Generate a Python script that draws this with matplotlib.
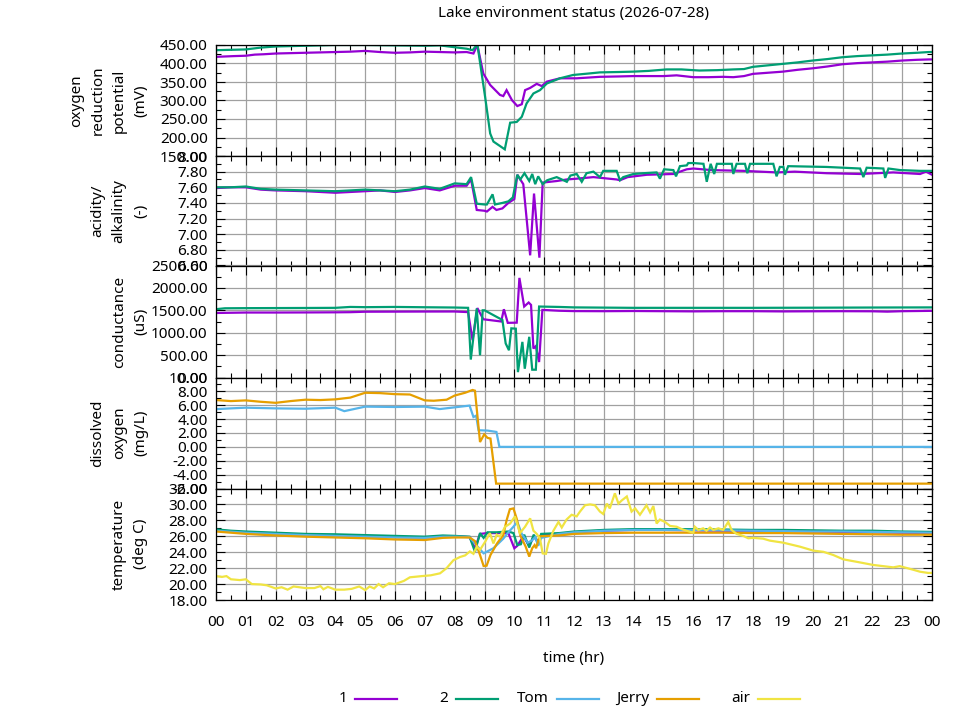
import matplotlib
matplotlib.use("Agg")
import matplotlib.pyplot as plt
from matplotlib.ticker import MultipleLocator, FormatStrFormatter, FuncFormatter
from matplotlib.lines import Line2D

# ---------------- data ----------------
title = "Lake environment status (2026-07-28)"
series_names = ["1", "2", "Tom", "Jerry", "air"]
series_colors = ["#9400D3", "#009E73", "#56B4E9", "#E69F00", "#F0E442"]

# oxygen reduction potential (mV)
orp1_t = [0, 0.3, 0.6, 1.0, 1.3, 1.6, 2.0, 2.5, 3.0, 3.5, 4.0, 4.5, 5.0, 5.5, 6.0, 6.5, 7.0, 7.5, 8.0, 8.4,
          8.63, 8.76, 8.96, 9.19, 9.52, 9.63, 9.74, 9.92, 10.1, 10.25, 10.36, 10.53, 10.75, 10.92, 11.09, 11.53,
          12.09, 12.87, 13.5, 14.0, 14.5, 15.0, 15.44, 16.0, 16.5, 17.0, 17.34, 17.7, 18.0, 18.5, 19.0, 19.5,
          20.0, 20.5, 21.0, 21.5, 22.0, 22.5, 23.0, 23.5, 23.9, 24.0]
orp1_v = [418, 419, 420, 421, 424, 425, 427, 428, 429, 430, 431, 432, 434, 431, 429, 430, 432, 431, 430, 431,
          427, 450, 373, 342, 315, 312, 328, 301, 285, 290, 328, 334, 345, 339, 351, 360,
          360, 364, 365, 366, 366, 366, 368, 363, 363, 364, 363, 366, 372, 375, 378, 383,
          387, 392, 398, 401, 403, 405, 408, 410, 411, 411]
orp2_t = [0, 0.5, 1.0, 1.5, 2.0, 3.0, 4.0, 5.0, 6.0, 7.0, 7.5, 8.0, 8.4, 8.6, 8.76, 9.02, 9.19, 9.3, 9.5,
          9.68, 9.86, 10.08, 10.25, 10.41, 10.64, 10.86, 11.09, 11.53, 11.97, 12.5, 12.87, 13.5, 13.98, 14.5,
          15.1, 15.6, 16.2, 16.8, 17.34, 17.7, 18.0, 18.5, 19.0, 19.5, 20.0, 20.5, 21.0, 21.5, 22.0, 22.5,
          23.0, 23.5, 23.9, 24.0]
orp2_v = [436, 437, 438, 443, 446, 448, 450, 450, 449, 448, 449, 444, 440, 436, 452, 310, 211, 189, 178,
          168, 240, 242, 256, 292, 319, 328, 346, 360, 369, 373, 376, 377, 378, 380,
          384, 384, 381, 382, 384, 385, 391, 395, 399, 403, 408, 412, 417, 420, 422, 424,
          427, 429, 431, 431]

# acidity / alkalinity
ph1_t = [0, 0.5, 1.0, 1.5, 2.0, 3.0, 4.0, 5.0, 5.5, 6.0, 6.5, 7.0, 7.5, 8.0, 8.4, 8.55, 8.74, 9.0, 9.08,
         9.27, 9.4, 9.6, 9.8, 10.0, 10.1, 10.3, 10.53, 10.66, 10.84, 10.95, 11.42, 11.76, 12.09, 12.65, 13.43,
         13.54, 13.8, 14.44, 15.33, 15.78, 16.0, 16.6, 17.68, 18.8, 19.4, 20.47, 21.6, 22.7, 23.6, 23.8, 24.0]
ph1_v = [7.59, 7.60, 7.60, 7.57, 7.56, 7.55, 7.53, 7.55, 7.56, 7.54, 7.56, 7.59, 7.56, 7.62, 7.62, 7.70,
         7.31, 7.30, 7.29, 7.35, 7.31, 7.33, 7.40, 7.45, 7.76, 7.64, 6.73, 7.52, 6.70, 7.66, 7.68, 7.70,
         7.71, 7.73, 7.70, 7.69, 7.73, 7.76, 7.77, 7.83, 7.84, 7.82, 7.81, 7.79, 7.80, 7.78, 7.77, 7.79,
         7.77, 7.80, 7.76]
ph2_t = [0, 0.5, 1.0, 1.5, 2.0, 3.0, 4.0, 5.0, 6.0, 6.5, 7.0, 7.5, 8.0, 8.4, 8.55, 8.74, 9.0, 9.08, 9.27,
         9.35, 9.6, 9.8, 9.95, 10.1, 10.2, 10.34, 10.5, 10.6, 10.7, 10.8, 10.95, 11.1, 11.42, 11.76, 11.88,
         12.09, 12.26, 12.42, 12.65, 12.87, 12.98, 13.43, 13.54, 13.65, 13.99, 14.33, 14.77, 14.88, 15.02,
         15.33, 15.42, 15.55, 15.78, 15.83, 16.0, 16.34, 16.45, 16.58, 16.7, 16.79, 17.29, 17.34, 17.45,
         17.73, 17.81, 17.9, 18.68, 18.79, 18.9, 19.02, 19.07, 19.18, 20.47, 21.59, 21.7, 21.81, 22.37,
         22.43, 22.54, 22.93, 23.6, 24.0]
ph2_v = [7.60, 7.60, 7.61, 7.58, 7.57, 7.56, 7.55, 7.57, 7.55, 7.57, 7.61, 7.58, 7.65, 7.64, 7.73, 7.39,
         7.38, 7.38, 7.51, 7.38, 7.40, 7.42, 7.47, 7.76, 7.70, 7.78, 7.68, 7.77, 7.64, 7.74, 7.64, 7.69,
         7.73, 7.67, 7.75, 7.77, 7.67, 7.78, 7.80, 7.73, 7.81, 7.81, 7.69, 7.73, 7.77, 7.78, 7.79, 7.71,
         7.83, 7.82, 7.74, 7.87, 7.88, 7.91, 7.91, 7.90, 7.67, 7.90, 7.77, 7.90, 7.90, 7.77, 7.90,
         7.90, 7.78, 7.90, 7.90, 7.74, 7.86, 7.86, 7.76, 7.87, 7.86, 7.84, 7.73, 7.85, 7.84,
         7.72, 7.84, 7.82, 7.81, 7.81]

# conductance (uS)
ec1_t = [0, 1, 2, 3, 4, 4.5, 5, 6, 7, 8, 8.45, 8.6, 8.76, 8.96, 9.56, 9.65, 9.78, 10.08, 10.17, 10.33,
         10.48, 10.56, 10.64, 10.72, 10.83, 10.94, 11.5, 12, 13, 14, 15, 16, 17, 18, 19, 20, 21, 22, 22.5,
         23, 24]
ec1_v = [1440, 1450, 1450, 1452, 1455, 1458, 1468, 1470, 1472, 1473, 1460, 833, 1550, 1300, 1250, 1524,
         1220, 1224, 2223, 1584, 1674, 1620, 646, 700, 345, 1509, 1490, 1482, 1480, 1484, 1480, 1476,
         1480, 1480, 1475, 1478, 1480, 1478, 1470, 1480, 1488]
ec2_t = [0, 0.3, 1, 2, 3, 4, 4.5, 5, 6, 7, 8, 8.45, 8.54, 8.74, 8.85, 8.94, 9.0, 9.6, 9.71, 9.82, 9.9,
         10.05, 10.12, 10.27, 10.35, 10.5, 10.6, 10.72, 10.83, 11.5, 12, 14, 16, 18, 20, 22, 24]
ec2_v = [1525, 1545, 1548, 1550, 1552, 1555, 1575, 1570, 1575, 1568, 1562, 1555, 400, 1540, 496, 1500,
         1500, 1284, 760, 608, 1097, 1090, 120, 795, 196, 908, 174, 174, 1584, 1575, 1565, 1555, 1555,
         1555, 1558, 1562, 1565]

# dissolved oxygen (mg/L)
do_tom_t = [0, 0.5, 1, 2, 3, 4, 4.3, 5, 6, 7, 7.5, 8, 8.5, 8.63, 8.72, 8.8, 9.1, 9.4, 9.5, 12, 24]
do_tom_v = [5.44, 5.55, 5.65, 5.55, 5.5, 5.65, 5.15, 5.8, 5.75, 5.8, 5.45, 5.7, 5.95, 4.3, 4.5, 2.4,
            2.35, 2.15, 0.0, 0.0, 0.0]
do_jerry_t = [0, 0.5, 1, 1.5, 2, 2.5, 3, 3.5, 4, 4.5, 5, 5.5, 6, 6.5, 7, 7.3, 7.73, 8, 8.35, 8.6, 8.68,
              8.85, 8.99, 9.1, 9.2, 9.39, 12, 24]
do_jerry_v = [6.75, 6.6, 6.7, 6.5, 6.35, 6.6, 6.8, 6.75, 6.85, 7.1, 7.8, 7.75, 7.6, 7.55, 6.7, 6.65, 6.8,
              7.4, 7.8, 8.2, 8.1, 0.7, 1.8, 1.3, 1.2, -5.3, -5.3, -5.3]

# temperature (deg C)
temp1_t = [0, 1, 2, 3, 4, 5, 6, 7, 7.6, 8, 8.5, 8.68, 8.85, 9.1, 9.5, 9.8, 10.0, 10.1, 10.3, 10.5, 10.65,
           10.8, 10.9, 11.5, 12, 13, 14, 15, 16, 17, 18, 19, 20, 21, 22, 23, 24]
temp1_v = [26.75, 26.5, 26.35, 26.2, 26.1, 26.0, 25.9, 25.85, 26.0, 26.0, 25.9, 24.5, 26.3, 26.4, 26.4,
           26.4, 24.5, 24.8, 26.0, 24.8, 26.0, 25.3, 26.2, 26.3, 26.5, 26.7, 26.8, 26.8, 26.75, 26.7,
           26.7, 26.65, 26.6, 26.55, 26.5, 26.45, 26.4]
temp2_t = [0, 0.5, 1, 2, 3, 4, 5, 6, 7, 7.6, 8, 8.5, 8.68, 8.85, 8.97, 9.1, 9.4, 9.8, 9.97, 10.1, 10.22,
           10.33, 10.5, 10.65, 10.8, 10.9, 11.5, 12, 13, 14, 15, 16, 17, 18, 19, 20, 21, 22, 23, 24]
temp2_v = [26.87, 26.7, 26.6, 26.45, 26.3, 26.25, 26.15, 26.05, 25.95, 26.1, 26.05, 25.95, 24.06, 26.4,
           25.8, 26.5, 26.5, 26.6, 26.4, 24.9, 25.0, 26.2, 24.6, 26.2, 25.1, 26.3, 26.4, 26.6, 26.8,
           26.9, 26.9, 26.9, 26.85, 26.8, 26.8, 26.75, 26.7, 26.7, 26.6, 26.55]
temp_tom_t = [0, 1, 2, 3, 4, 5, 6, 7, 7.6, 8, 8.5, 8.7, 8.97, 9.3, 9.63, 9.8, 9.97, 10.1, 10.25, 10.45,
              10.6, 10.7, 10.8, 10.9, 11.5, 12, 13, 14, 15, 16, 17, 18, 19, 20, 21, 22, 23, 24]
temp_tom_v = [26.7, 26.45, 26.3, 26.15, 26.05, 25.95, 25.85, 25.8, 25.95, 25.95, 25.9, 25.0, 23.86, 24.5,
              25.7, 26.5, 27.2, 27.8, 26.3, 25.2, 25.5, 25.9, 24.8, 25.8, 26.3, 26.5, 26.7, 26.8, 26.8,
              26.8, 26.75, 26.7, 26.65, 26.6, 26.6, 26.55, 26.5, 26.45]
temp_jerry_t = [0, 1, 2, 3, 4, 5, 6, 7, 7.6, 8, 8.5, 8.68, 8.85, 8.97, 9.07, 9.2, 9.42, 9.63, 9.74, 9.85,
                9.97, 10.08, 10.2, 10.38, 10.5, 10.6, 10.68, 10.73, 10.84, 11.5, 12, 13, 14, 15, 16, 17,
                18, 19, 20, 21, 22, 23, 24]
temp_jerry_v = [26.6, 26.3, 26.1, 25.95, 25.85, 25.75, 25.6, 25.53, 25.8, 25.85, 25.85, 25.4, 23.65, 22.27,
                22.3, 23.65, 25.1, 26.15, 28.0, 29.4, 29.5, 28.2, 26.1, 24.7, 23.45, 24.5, 24.9, 24.5,
                26.0, 26.1, 26.3, 26.4, 26.45, 26.45, 26.45, 26.45, 26.4, 26.4, 26.35, 26.3, 26.25, 26.2,
                26.2]
temp_air_t = [0, 0.2, 0.35, 0.5, 0.8, 1.0, 1.2, 1.5, 1.7, 2.0, 2.2, 2.4, 2.6, 2.8, 3.0, 3.3, 3.5, 3.6,
              3.75, 4.0, 4.3, 4.55, 4.8, 5.0, 5.15, 5.3, 5.45, 5.6, 5.8, 6.0, 6.3, 6.5, 6.9, 7.2, 7.51,
              7.73, 7.96, 8.18, 8.35, 8.51, 8.63, 8.74, 8.85, 9.02, 9.18, 9.3, 9.41, 9.52, 9.69, 9.86, 10.02,
              10.19, 10.36, 10.53, 10.64, 10.75, 10.86, 10.95, 11.06, 11.14, 11.31, 11.48, 11.59, 11.75,
              11.92, 12.09, 12.2, 12.37, 12.54, 12.7, 12.87, 12.98, 13.1, 13.2, 13.37, 13.49, 13.6, 13.77,
              13.93, 14.05, 14.21, 14.32, 14.43, 14.55, 14.66, 14.77, 14.88, 15.05, 15.22, 15.44, 15.61,
              15.77, 16.0, 16.05, 16.17, 16.33, 16.44, 16.56, 16.67, 16.84, 17.0, 17.17, 17.28, 17.45,
              17.67, 17.84, 18.01, 18.34, 18.57, 19.01, 19.57, 20.02, 20.36, 20.69, 21.03, 21.47, 22.03,
              22.7, 22.92, 23.37, 23.6, 23.87, 24.0]
temp_air_v = [21.0, 20.9, 21.0, 20.6, 20.5, 20.6, 20.0, 19.95, 19.85, 19.45, 19.6, 19.3, 19.7, 19.6, 19.5,
              19.5, 19.75, 19.35, 19.65, 19.3, 19.3, 19.4, 19.7, 19.25, 19.7, 19.45, 20.0, 19.6, 20.1,
              20.0, 20.4, 20.85, 21.0, 21.1, 21.35, 22.0, 23.0, 23.4, 23.6, 24.1, 23.8, 24.7, 24.3, 25.3,
              26.4, 25.1, 26.2, 25.95, 27.2, 27.6, 28.5, 26.4, 27.2, 28.25, 26.7, 26.3, 25.7, 23.85, 23.8,
              25.1, 26.7, 27.8, 27.1, 28.1, 28.7, 28.5, 29.1, 29.9, 30.0, 29.9, 29.1, 28.8, 30.1, 29.5,
              31.4, 30.1, 30.5, 31.0, 29.1, 29.5, 28.7, 29.3, 29.9, 29.0, 29.8, 27.6, 28.1, 27.8, 27.3,
              27.2, 26.9, 26.7, 26.45, 27.2, 26.8, 27.0, 26.7, 27.1, 26.8, 27.0, 26.8, 27.8, 26.8, 26.3,
              26.05, 25.75, 25.8, 25.7, 25.45, 25.2, 24.7, 24.2, 24.05, 23.65, 23.1, 22.8, 22.4, 22.1,
              22.25, 21.8, 21.55, 21.4, 21.4]

panels = [
    dict(label="oxygen\nreduction\npotential\n(mV)", ylim=(150, 450), major=50, minor=25,
         lines=[(orp1_t, orp1_v, 0), (orp2_t, orp2_v, 1)]),
    dict(label="acidity/\nalkalinity\n(-)", ylim=(6.6, 8.0), major=0.2, minor=0.1,
         lines=[(ph1_t, ph1_v, 0), (ph2_t, ph2_v, 1)]),
    dict(label="conductance\n(uS)", ylim=(0, 2500), major=500, minor=250,
         lines=[(ec1_t, ec1_v, 0), (ec2_t, ec2_v, 1)]),
    dict(label="dissolved\noxygen\n(mg/L)", ylim=(-6, 10), major=2, minor=1,
         lines=[(do_tom_t, do_tom_v, 2), (do_jerry_t, do_jerry_v, 3)]),
    dict(label="temperature\n(deg C)", ylim=(18, 32), major=2, minor=1,
         lines=[(temp1_t, temp1_v, 0), (temp2_t, temp2_v, 1), (temp_tom_t, temp_tom_v, 2),
                (temp_jerry_t, temp_jerry_v, 3), (temp_air_t, temp_air_v, 4)]),
]

# ---------------- layout ----------------
W, H = 960, 720
plt.rcParams['font.family'] = ['Noto Sans', 'DejaVu Sans']
plt.rcParams['font.size'] = 11
fig = plt.figure(figsize=(W / 100, H / 100), dpi=100)

left_px, right_px = 216, 932
edges_px = [45, 156, 265.5, 377.5, 488.5, 600]

axes = []
for i, p in enumerate(panels):
    top, bot = edges_px[i], edges_px[i + 1]
    ax = fig.add_axes([left_px / W, 1 - bot / H, (right_px - left_px) / W, (bot - top) / H],
                      sharex=axes[0] if axes else None)
    axes.append(ax)
    for t, v, ci in p["lines"]:
        ax.plot(t, v, color=series_colors[ci], lw=1.6, solid_joinstyle='miter')
    ax.set_ylim(*p["ylim"])
    ax.yaxis.set_major_locator(MultipleLocator(p["major"]))
    ax.yaxis.set_minor_locator(MultipleLocator(p["minor"]))
    ax.yaxis.set_major_formatter(FormatStrFormatter('%.2f'))
    ax.grid(True, which='major', color='#a0a0a0', lw=0.9)
    ax.set_axisbelow(True)
    ax.tick_params(which='both', direction='in', top=True, right=True, color='black', width=0.8)
    ax.tick_params(which='major', length=6.5)
    ax.tick_params(which='minor', length=3.3)
    ax.tick_params(axis='y', pad=6, labelsize=11)
    ax.set_ylabel(p["label"], fontsize=11, linespacing=1.57)
    ax.yaxis.set_label_coords((148 - left_px) / (right_px - left_px), 0.5)
    for s in ax.spines.values():
        s.set_linewidth(0.9)
    if i < len(panels) - 1:
        ax.tick_params(axis='x', labelbottom=False)

ax0 = axes[0]
ax0.set_xlim(0, 24)
ax0.xaxis.set_major_locator(MultipleLocator(1))
ax0.xaxis.set_minor_locator(MultipleLocator(0.5))
axes[-1].xaxis.set_major_formatter(FuncFormatter(lambda x, pos: "%02d" % (int(round(x)) % 24)))
axes[-1].tick_params(axis='x', pad=11, labelsize=11)
axes[-1].set_xlabel("time (hr)", fontsize=11, labelpad=15)

fig.text((left_px + right_px) / 2 / W, 1 - 14 / H, title, ha='center', va='center', fontsize=11)

# legend (gnuplot style: label then sample, fixed-width columns)
leg_y = 1 - 699 / H
for k, name in enumerate(series_names):
    x0 = 355 + k * 100.8
    fig.text((x0 - 8) / W, leg_y, name, ha='right', va='center', fontsize=11)
    fig.add_artist(Line2D([x0 / W, (x0 + 42) / W], [leg_y, leg_y], transform=fig.transFigure,
                          color=series_colors[k], lw=1.6))

fig.savefig("out.png", dpi=100)
